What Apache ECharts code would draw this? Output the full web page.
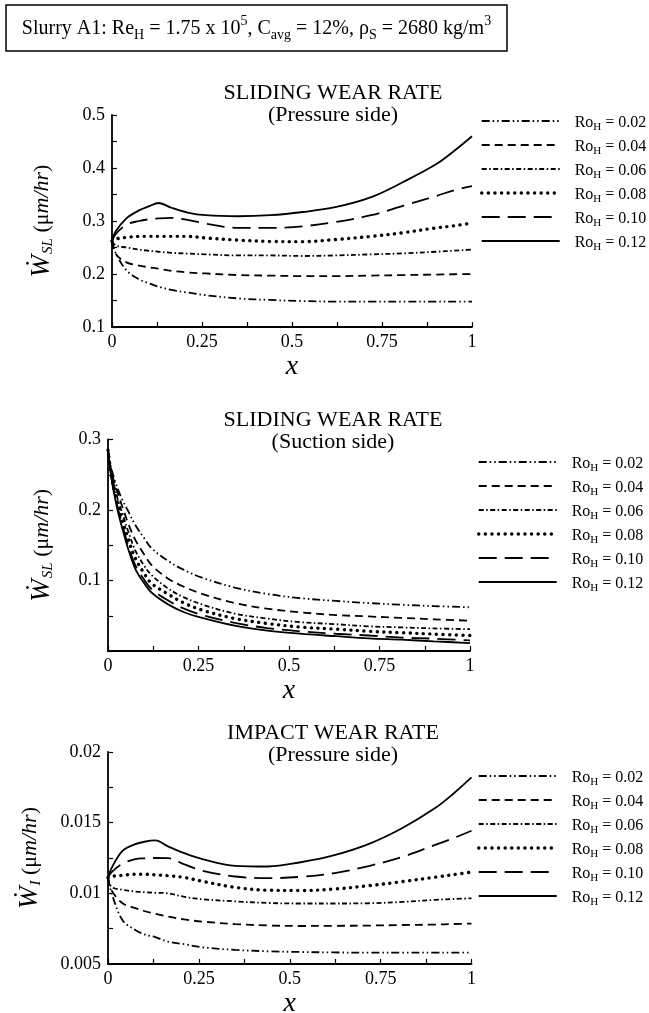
<!DOCTYPE html>
<html lang="en">
<head>
    <meta charset="UTF-8">
    <title>Wear rate</title>
    <script src="https://cdn.jsdelivr.net/npm/echarts@6/dist/echarts.min.js"></script>
    <style>
        html, body { margin: 0; padding: 0; background: #fff; }
    </style>
</head>
<body>
<div id="echarts" style="width: 649px;height:1013px"></div>
<script>
    // legend entries
    var roNames = ['0.02', '0.04', '0.06', '0.08', '0.10', '0.12'];

    // x positions along the blade
    var xTop = [0, 0.01, 0.04, 0.075, 0.1, 0.13, 0.165, 0.21, 0.26, 0.35, 0.44, 0.53, 0.62, 0.72, 0.81, 0.9, 0.95, 1];
    var xMid = [0, 0.005, 0.01, 0.02, 0.03, 0.04, 0.055, 0.075, 0.1, 0.12, 0.165, 0.21, 0.26, 0.35, 0.44, 0.53, 0.63, 0.72, 0.81, 0.9, 1];
    var xBot = [0, 0.01, 0.04, 0.075, 0.1, 0.13, 0.165, 0.21, 0.26, 0.35, 0.44, 0.53, 0.62, 0.72, 0.81, 0.9, 0.95, 1];

    // sliding wear rate, pressure side
    var slPress002 = [0.262, 0.24, 0.207, 0.19, 0.183, 0.176, 0.17, 0.165, 0.16, 0.154, 0.151, 0.149, 0.148, 0.148, 0.148, 0.148, 0.148, 0.148];
    var slPress004 = [0.262, 0.238, 0.222, 0.216, 0.213, 0.21, 0.206, 0.203, 0.201, 0.198, 0.197, 0.196, 0.196, 0.197, 0.198, 0.199, 0.1995, 0.2];
    var slPress006 = [0.262, 0.254, 0.25, 0.246, 0.244, 0.242, 0.24, 0.2385, 0.237, 0.235, 0.235, 0.234, 0.235, 0.237, 0.239, 0.242, 0.244, 0.246];
    var slPress008 = [0.262, 0.266, 0.269, 0.271, 0.271, 0.271, 0.271, 0.271, 0.268, 0.264, 0.2615, 0.261, 0.265, 0.271, 0.278, 0.287, 0.291, 0.296];
    var slPress010 = [0.262, 0.275, 0.293, 0.3, 0.303, 0.305, 0.306, 0.302, 0.295, 0.287, 0.287, 0.29, 0.298, 0.311, 0.329, 0.347, 0.358, 0.366];
    var slPress012 = [0.262, 0.28, 0.305, 0.32, 0.327, 0.334, 0.325, 0.316, 0.311, 0.309, 0.311, 0.317, 0.326, 0.345, 0.374, 0.407, 0.432, 0.46];

    // sliding wear rate, suction side
    var slSuct002 = [0.285, 0.269, 0.257, 0.24, 0.226, 0.214, 0.199, 0.179, 0.16, 0.146, 0.128, 0.115, 0.104, 0.09, 0.081, 0.075, 0.071, 0.068, 0.0656, 0.0637, 0.062];
    var slSuct004 = [0.285, 0.267, 0.253, 0.235, 0.219, 0.204, 0.182, 0.158, 0.137, 0.122, 0.103, 0.091, 0.081, 0.068, 0.06, 0.055, 0.051, 0.049, 0.047, 0.045, 0.043];
    var slSuct006 = [0.285, 0.265, 0.25, 0.228, 0.21, 0.195, 0.171, 0.143, 0.121, 0.108, 0.089, 0.076, 0.066, 0.053, 0.046, 0.041, 0.038, 0.035, 0.0335, 0.032, 0.031];
    var slSuct008 = [0.285, 0.264, 0.247, 0.223, 0.203, 0.185, 0.16, 0.132, 0.11, 0.096, 0.081, 0.068, 0.058, 0.046, 0.039, 0.034, 0.031, 0.028, 0.026, 0.024, 0.022];
    var slSuct010 = [0.285, 0.263, 0.245, 0.218, 0.197, 0.178, 0.151, 0.122, 0.101, 0.088, 0.072, 0.06, 0.051, 0.04, 0.0325, 0.028, 0.0245, 0.022, 0.019, 0.0175, 0.015];
    var slSuct012 = [0.285, 0.262, 0.243, 0.215, 0.192, 0.173, 0.146, 0.117, 0.096, 0.083, 0.0665, 0.055, 0.047, 0.036, 0.029, 0.0245, 0.021, 0.018, 0.016, 0.0137, 0.0113];

    // impact wear rate, pressure side
    var imPress002 = [0.0111, 0.0100, 0.0081, 0.00741, 0.0071, 0.0069, 0.00658, 0.0064, 0.00618, 0.006, 0.0059, 0.00585, 0.00582, 0.0058, 0.0058, 0.0058, 0.0058, 0.0058];
    var imPress004 = [0.0111, 0.0102, 0.0093, 0.00895, 0.00875, 0.00855, 0.00835, 0.00815, 0.008, 0.00782, 0.00773, 0.00769, 0.0077, 0.00772, 0.00776, 0.00779, 0.00783, 0.00786];
    var imPress006 = [0.0111, 0.01045, 0.01025, 0.01013, 0.01008, 0.01004, 0.01, 0.00975, 0.00958, 0.00943, 0.00932, 0.00928, 0.00928, 0.0093, 0.00939, 0.00954, 0.0096, 0.00965];
    var imPress008 = [0.0111, 0.0112, 0.01128, 0.01135, 0.01135, 0.01131, 0.01125, 0.01112, 0.01085, 0.01042, 0.01022, 0.0102, 0.0103, 0.01055, 0.01083, 0.01114, 0.01132, 0.0115];
    var imPress010 = [0.0111, 0.0115, 0.0121, 0.01242, 0.01248, 0.0125, 0.01249, 0.01205, 0.0116, 0.01119, 0.01107, 0.01117, 0.01142, 0.01195, 0.01258, 0.01343, 0.0139, 0.01443];
    var imPress012 = [0.0111, 0.0118, 0.013, 0.01348, 0.01365, 0.01374, 0.01332, 0.01284, 0.01242, 0.01195, 0.0119, 0.0122, 0.01268, 0.01352, 0.01462, 0.01603, 0.01705, 0.0182];

    // tick labels
    var xLabels = [0, 0.25, 0.5, 0.75, 1];
    var yLabelsTop = [0.1, 0.2, 0.3, 0.4, 0.5];
    var yLabelsMid = [0.1, 0.2, 0.3];
    var yLabelsBot = [0.005, 0.01, 0.015, 0.02];

    var FONT = 'Liberation Serif';
    var chartDom = document.getElementById('echarts');
    var myChart = echarts.init(chartDom, null, {renderer: 'canvas'});

    // line dash / width / cap for each Ro value
    var dashes = [[8, 3, 1.5, 3, 1.5, 3], [8, 5], [5, 2.5, 1.5, 2.5], [0.1, 6.5], [18, 8], 'solid'];
    var widths = [1.8, 1.8, 1.8, 3.4, 1.8, 1.8];
    var caps = ['butt', 'butt', 'butt', 'round', 'butt', 'butt'];

    function zip(xs, ys) {
        return xs.map(function (x, i) { return [x, ys[i]]; });
    }

    function fmt(v) {
        return String(+(+v).toPrecision(6));
    }

    function pick(list) {
        return function (v) {
            return list.some(function (l) { return Math.abs(l - v) < 1e-9; }) ? fmt(v) : '';
        };
    }

    function makeX(gi) {
        return {
            type: 'value', gridIndex: gi, min: 0, max: 1, interval: 0.125,
            axisLine: {show: true, onZero: false, lineStyle: {color: '#000', width: 1.8}},
            axisTick: {show: true, inside: true, length: 5, lineStyle: {color: '#000', width: 1.2}},
            splitLine: {show: false},
            axisLabel: {color: '#000', fontFamily: FONT, fontSize: 18, margin: 6, formatter: pick(xLabels)},
            name: 'x', nameLocation: 'middle', nameGap: 26, nameMoveOverlap: false,
            nameTextStyle: {color: '#000', fontFamily: FONT, fontSize: 28, fontStyle: 'italic'}
        };
    }

    function makeY(gi, min, max, interval, labels, sub, gap) {
        return {
            type: 'value', gridIndex: gi, min: min, max: max, interval: interval,
            axisLine: {show: true, onZero: false, lineStyle: {color: '#000', width: 1.8}},
            axisTick: {show: true, inside: true, length: 5, lineStyle: {color: '#000', width: 1.2}},
            splitLine: {show: false},
            axisLabel: {color: '#000', fontFamily: FONT, fontSize: 18, margin: 7, formatter: pick(labels)},
            name: '{w|Ẇ}{s|' + sub + '}{p| (μ}{i|m/hr}{p|)}',
            nameLocation: 'middle', nameRotate: 90, nameGap: gap, nameMoveOverlap: false,
            nameTextStyle: {
                color: '#000',
                rich: {
                    w: {fontFamily: FONT, fontSize: 27, fontStyle: 'italic', verticalAlign: 'top', color: '#000'},
                    s: {fontFamily: FONT, fontSize: 15, fontStyle: 'italic', verticalAlign: 'top', padding: [13, 0, 0, 1], color: '#000'},
                    p: {fontFamily: FONT, fontSize: 22, verticalAlign: 'top', padding: [3, 0, 0, 0], color: '#000'},
                    i: {fontFamily: FONT, fontSize: 22, fontStyle: 'italic', verticalAlign: 'top', padding: [3, 0, 0, 0], color: '#000'}
                }
            }
        };
    }

    function makeSeries(gi, xs, sets) {
        return sets.map(function (ys, k) {
            return {
                name: 'Ro_H = ' + roNames[k],
                type: 'line', xAxisIndex: gi, yAxisIndex: gi,
                data: zip(xs, ys),
                showSymbol: false, symbol: 'none',
                smooth: 0.35,
                silent: true,
                itemStyle: {color: '#000'},
                lineStyle: {color: '#000', width: widths[k], type: dashes[k], cap: caps[k]}
            };
        });
    }

    function makeLegend(left, top) {
        return {
            orient: 'vertical', left: left, top: top, padding: 0,
            itemWidth: 78, itemHeight: 14, itemGap: 6,
            selectedMode: false,
            itemStyle: {color: 'rgba(0,0,0,0)', borderWidth: 0},
            data: roNames.map(function (r, k) {
                return {
                    name: 'Ro_H = ' + r,
                    lineStyle: {color: '#000', width: widths[k], type: dashes[k], cap: caps[k]}
                };
            }),
            formatter: function (name) {
                return '{r|Ro}{h|H}{r| = ' + name.split(' = ')[1] + '}';
            },
            textStyle: {
                padding: [0, 0, 0, 10],
                rich: {
                    r: {fontFamily: FONT, fontSize: 16, color: '#000', verticalAlign: 'top', padding: [6, 0, 0, 0]},
                    h: {fontFamily: FONT, fontSize: 11, color: '#000', verticalAlign: 'top', padding: [13, 0, 0, 0]}
                }
            }
        };
    }

    function title(y, line1, line2) {
        return {
            type: 'text', x: 333, y: y,
            style: {
                text: line1 + '\n' + line2, align: 'center', verticalAlign: 'top',
                fontFamily: FONT, fontSize: 22, lineHeight: 22, fill: '#000'
            }
        };
    }

    var option = {
        backgroundColor: '#fff',
        animation: false,
        grid: [
            {left: 112, top: 115, width: 360, height: 212, outerBoundsMode: 'none'},
            {left: 108, top: 439.5, width: 362, height: 211.5, outerBoundsMode: 'none'},
            {left: 108, top: 752, width: 363.5, height: 212, outerBoundsMode: 'none'}
        ],
        xAxis: [makeX(0), makeX(1), makeX(2)],
        yAxis: [
            makeY(0, 0.1, 0.5, 0.05, yLabelsTop, 'SL', 56),
            makeY(1, 0, 0.3, 0.05, yLabelsMid, 'SL', 52),
            makeY(2, 0.005, 0.02, 0.0025, yLabelsBot, 'I', 64)
        ],
        legend: [makeLegend(480, 115), makeLegend(477, 456), makeLegend(477, 770)],
        graphic: [
            {
                type: 'rect', shape: {x: 6, y: 5, width: 501, height: 46},
                style: {fill: '#fff', stroke: '#000', lineWidth: 1.5}
            },
            {
                type: 'text', x: 256.5, y: 28,
                style: {
                    text: '{m|Slurry A1: Re}{b|H}{m| = 1.75 x 10}{p|5}{m|, C}{b|avg}{m| = 12%, ρ}{b|S}{m| = 2680 kg/m}{p|3}',
                    align: 'center', verticalAlign: 'middle',
                    rich: {
                        m: {fontFamily: FONT, fontSize: 20, fill: '#000', verticalAlign: 'top', padding: [5, 0, 0, 0]},
                        b: {fontFamily: FONT, fontSize: 14, fill: '#000', verticalAlign: 'top', padding: [14, 0, 0, 0]},
                        p: {fontFamily: FONT, fontSize: 14, fill: '#000', verticalAlign: 'top'}
                    }
                }
            },
            title(82, 'SLIDING WEAR RATE', '(Pressure side)'),
            title(409, 'SLIDING WEAR RATE', '(Suction side)'),
            title(722, 'IMPACT WEAR RATE', '(Pressure side)')
        ],
        series: [].concat(
            makeSeries(0, xTop, [slPress002, slPress004, slPress006, slPress008, slPress010, slPress012]),
            makeSeries(1, xMid, [slSuct002, slSuct004, slSuct006, slSuct008, slSuct010, slSuct012]),
            makeSeries(2, xBot, [imPress002, imPress004, imPress006, imPress008, imPress010, imPress012])
        )
    };

    option && myChart.setOption(option);
</script>
</body>
</html>
